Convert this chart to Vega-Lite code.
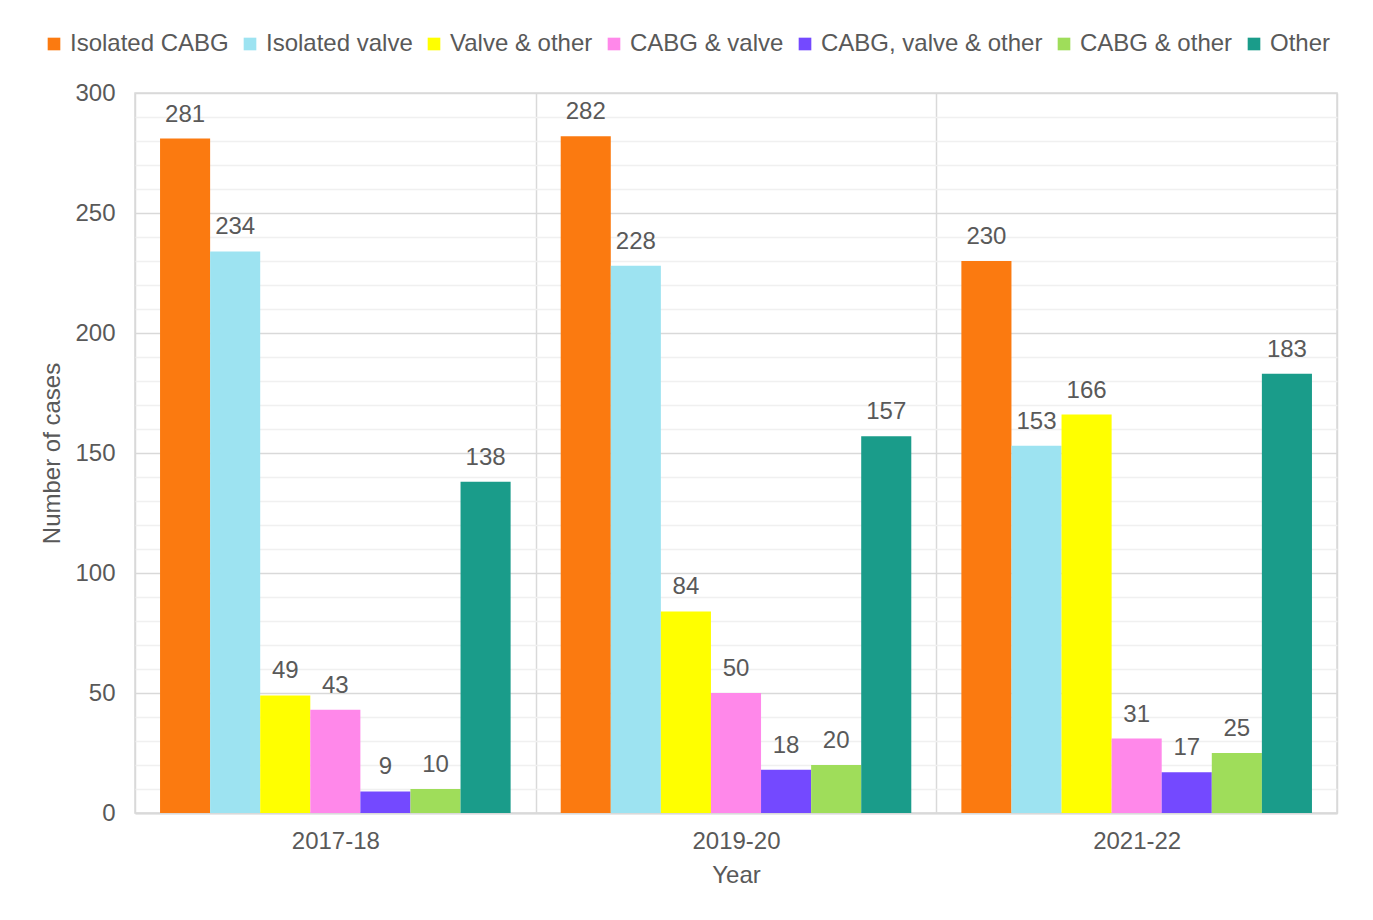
{
  "$schema": "https://vega.github.io/schema/vega-lite/v6.json",
  "width": 1202,
  "height": 720,
  "autosize": {"type": "none"},
  "padding": {"left": 135, "top": 93, "right": 36, "bottom": 107},
  "background": "white",
  "config": {
    "font": "Liberation Sans",
    "view": {"stroke": "#d9d9d9", "strokeWidth": 1.5}
  },
  "data": {
    "values": [
      {"Year": "2017-18", "Category": "Isolated CABG", "Cases": 281},
      {"Year": "2017-18", "Category": "Isolated valve", "Cases": 234},
      {"Year": "2017-18", "Category": "Valve & other", "Cases": 49},
      {"Year": "2017-18", "Category": "CABG & valve", "Cases": 43},
      {"Year": "2017-18", "Category": "CABG, valve & other", "Cases": 9},
      {"Year": "2017-18", "Category": "CABG & other", "Cases": 10},
      {"Year": "2017-18", "Category": "Other", "Cases": 138},
      {"Year": "2019-20", "Category": "Isolated CABG", "Cases": 282},
      {"Year": "2019-20", "Category": "Isolated valve", "Cases": 228},
      {"Year": "2019-20", "Category": "Valve & other", "Cases": 84},
      {"Year": "2019-20", "Category": "CABG & valve", "Cases": 50},
      {"Year": "2019-20", "Category": "CABG, valve & other", "Cases": 18},
      {"Year": "2019-20", "Category": "CABG & other", "Cases": 20},
      {"Year": "2019-20", "Category": "Other", "Cases": 157},
      {"Year": "2021-22", "Category": "Isolated CABG", "Cases": 230},
      {"Year": "2021-22", "Category": "Isolated valve", "Cases": 153},
      {"Year": "2021-22", "Category": "Valve & other", "Cases": 166},
      {"Year": "2021-22", "Category": "CABG & valve", "Cases": 31},
      {"Year": "2021-22", "Category": "CABG, valve & other", "Cases": 17},
      {"Year": "2021-22", "Category": "CABG & other", "Cases": 25},
      {"Year": "2021-22", "Category": "Other", "Cases": 183}
    ]
  },
  "encoding": {
    "x": {
      "field": "Year",
      "type": "nominal",
      "sort": ["2017-18", "2019-20", "2021-22"],
      "scale": {"paddingInner": 0, "paddingOuter": 0},
      "axis": {
        "title": "Year",
        "labelAngle": 0,
        "ticks": false,
        "tickBand": "extent",
        "grid": true,
        "gridColor": "#d9d9d9",
        "gridWidth": 1.5,
        "domainColor": "#d9d9d9",
        "domainWidth": 2,
        "labelFontSize": 24,
        "labelColor": "#595959",
        "labelPadding": 16,
        "titleFontSize": 24,
        "titleFontWeight": "normal",
        "titleColor": "#595959",
        "titlePadding": 10
      }
    },
    "xOffset": {
      "field": "Category",
      "type": "nominal",
      "sort": ["Isolated CABG", "Isolated valve", "Valve & other", "CABG & valve", "CABG, valve & other", "CABG & other", "Other"],
      "scale": {"paddingInner": 0, "paddingOuter": 0.5}
    },
    "y": {
      "field": "Cases",
      "type": "quantitative",
      "scale": {"domain": [0, 300], "nice": false},
      "axis": {
        "title": "Number of cases",
        "values": [0, 10, 20, 30, 40, 50, 60, 70, 80, 90, 100, 110, 120, 130, 140, 150, 160, 170, 180, 190, 200, 210, 220, 230, 240, 250, 260, 270, 280, 290, 300],
        "labelExpr": "datum.value % 50 === 0 ? datum.label : ''",
        "ticks": false,
        "domain": false,
        "grid": true,
        "gridColor": {"condition": {"test": "datum.value % 50 === 0", "value": "#d9d9d9"}, "value": "#f0f0f0"},
        "gridWidth": 1.5,
        "labelFontSize": 24,
        "labelColor": "#595959",
        "labelPadding": 20,
        "titleFontSize": 24,
        "titleFontWeight": "normal",
        "titleColor": "#595959",
        "titlePadding": 10
      }
    }
  },
  "layer": [
    {
      "mark": {"type": "bar"},
      "encoding": {
        "color": {
          "field": "Category",
          "type": "nominal",
          "sort": ["Isolated CABG", "Isolated valve", "Valve & other", "CABG & valve", "CABG, valve & other", "CABG & other", "Other"],
          "scale": {
            "domain": ["Isolated CABG", "Isolated valve", "Valve & other", "CABG & valve", "CABG, valve & other", "CABG & other", "Other"],
            "range": ["#fb7a10", "#9de3f1", "#ffff00", "#ff88ea", "#7449ff", "#9fdd5a", "#1a9c8a"]
          },
          "legend": {
            "title": null,
            "orient": "none",
            "legendX": -93,
            "legendY": -61,
            "direction": "horizontal",
            "symbolType": "square",
            "symbolSize": 160,
            "symbolStrokeWidth": 0,
            "labelFontSize": 24,
            "labelColor": "#595959",
            "labelOffset": 4,
            "columnPadding": 9,
            "labelLimit": 400
          }
        }
      }
    },
    {
      "mark": {"type": "text", "baseline": "alphabetic", "dy": -17, "fontSize": 24, "color": "#595959"},
      "encoding": {"text": {"field": "Cases", "type": "quantitative"}}
    }
  ]
}
